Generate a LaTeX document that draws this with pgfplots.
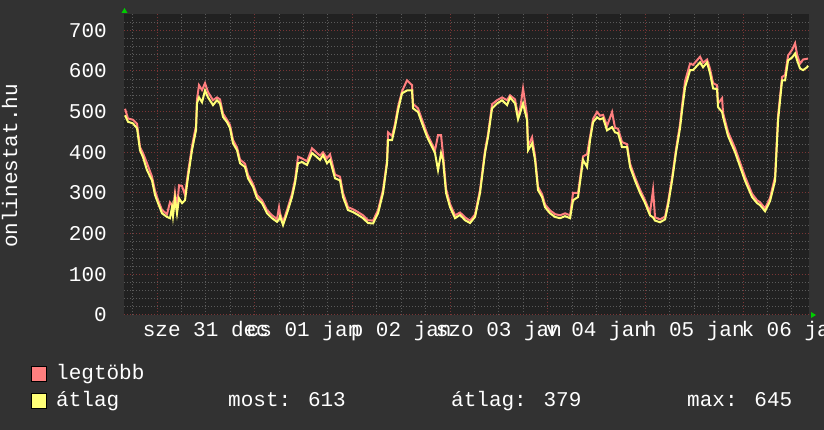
\documentclass[border=0pt]{standalone}
\usepackage{fontspec}
\usepackage{pgfplots}
\usepackage{pgfplotstable}
\pgfplotsset{compat=1.18}
\newfontfamily\rrd{Liberation Mono}
\definecolor{bg}{HTML}{323232}
\definecolor{canvas}{HTML}{212121}
\definecolor{mgrid}{HTML}{7A3535}
\definecolor{mingrid}{HTML}{5A5A5A}
\definecolor{maxc}{HTML}{FF7F7F}
\definecolor{avgc}{HTML}{FFFF77}
\definecolor{arrowc}{HTML}{00CC00}
\pgfplotstableread{
h avg max
-7.86 491 507
-7.13 475 483
-5.90 471 480
-4.91 459 470
-4.18 405 413
-3.44 388 398
-2.46 356 373
-1.23 331 340
-0.49 295 305
0.25 275 283
1.23 250 258
2.46 241 248
3.19 238 277
3.69 265 270
3.93 243 255
4.42 287 300
4.91 250 262
5.41 287 319
6.14 275 317
6.88 282 295
7.62 339 350
8.60 405 415
9.09 430 440
9.58 454 465
9.83 521 530
10.32 535 565
11.06 523 553
11.80 552 570
12.53 535 548
13.76 516 528
14.74 528 535
15.48 520 530
16.22 487 495
17.20 474 480
17.94 459 467
18.68 422 430
19.66 405 412
20.40 373 382
21.62 364 372
22.36 336 345
23.59 315 322
24.57 287 295
25.80 275 282
27.03 250 258
28.26 238 245
29.49 229 236
29.98 235 265
30.22 243 250
30.96 221 228
31.94 250 258
33.17 290 298
33.91 324 332
34.65 373 389
35.63 376 385
36.86 369 378
38.09 398 410
39.32 388 398
40.05 381 392
40.79 393 400
41.77 373 385
42.51 381 395
43.74 336 345
44.97 331 340
45.71 290 300
46.93 258 265
48.16 253 260
49.39 246 253
50.62 238 245
51.85 226 233
53.08 225 232
54.31 250 258
55.54 300 308
56.52 373 380
56.76 430 449
57.75 430 440
58.48 462 470
59.22 503 512
60.20 545 550
61.43 552 577
62.66 552 565
62.91 508 519
64.14 499 508
65.12 471 480
66.35 438 446
67.58 413 420
68.31 398 405
69.05 356 442
69.79 398 442
70.28 381 395
71.02 300 310
72.00 265 273
73.23 238 245
74.46 246 252
75.68 233 240
76.91 226 232
78.14 241 247
79.37 300 308
80.60 398 405
81.34 438 445
82.32 508 518
83.55 520 528
84.78 528 535
86.01 516 528
86.74 535 540
87.97 520 530
88.71 481 490
89.20 496 505
89.94 520 557
90.92 479 490
91.17 405 415
92.15 422 437
92.89 381 390
93.62 307 315
94.61 290 297
95.34 265 272
96.57 250 257
97.80 241 248
99.03 238 245
100.26 243 250
101.49 238 245
102.22 282 300
103.45 290 300
104.68 381 390
105.66 364 395
106.40 430 438
107.14 474 482
108.12 486 499
108.86 481 490
109.60 484 492
110.58 454 465
111.81 462 499
112.54 449 460
113.28 447 458
114.26 413 425
115.49 413 420
116.23 364 372
117.46 330 338
118.69 300 308
119.92 275 282
121.14 245 252
121.88 240 308
122.37 232 240
123.60 228 235
124.83 235 242
125.57 270 278
126.55 330 338
127.53 400 408
128.52 460 470
129.01 503 515
129.75 560 575
130.97 602 618
131.71 602 615
133.43 621 635
134.17 609 620
135.15 621 628
135.89 594 605
136.63 557 570
137.61 555 565
137.85 511 520
138.84 499 533
139.08 487 497
140.31 440 450
142.03 400 410
143.26 365 375
144.49 330 340
146.21 290 298
147.44 275 282
148.18 270 277
149.40 255 262
150.63 280 288
151.86 330 340
152.60 479 490
153.58 577 585
154.32 577 590
155.06 626 638
156.04 633 652
156.78 643 668
157.27 626 640
158.00 606 618
158.74 602 628
159.72 609 630
159.97 613 630
}\rrddata
\begin{document}
\begin{tikzpicture}
\path[use as bounding box] (0pt,0pt) rectangle (824pt,430pt);
\fill[bg] (0pt,0pt) rectangle (824pt,430pt);
\begin{scope}
\clip (0pt,0pt) rectangle (824pt,430pt);
\begin{axis}[
  at={(124pt,115pt)}, anchor=south west,
  scale only axis, width=685pt, height=301pt,
  xmin=-8.11, xmax=160.2, ymin=0, ymax=740,
  axis background/.style={fill=canvas},
  axis line style={draw=none},
  xtick={0,24,48,72,96,120,144}, xticklabels={},
  minor xtick={-6,6,12,18,30,36,42,54,60,66,78,84,90,102,108,114,126,132,138,150,156},
  ytick={0,100,...,700},
  minor ytick={20,40,60,80,120,140,160,180,220,240,260,280,320,340,360,380,420,440,460,480,520,540,560,580,620,640,660,680,720},
  grid=both,
  major grid style={mgrid, line width=1pt, dash pattern=on 1pt off 2pt},
  minor grid style={mingrid, line width=1pt, dash pattern=on 1pt off 2pt},
  major tick length=0pt, minor tick length=0pt,
  tick style={draw=none},
  extra x ticks={12,36,60,84,108,132,156},
  extra x tick labels={sze 31 dec,cs 01 jan,p 02 jan,szo 03 jan,v 04 jan,h 05 jan,k 06 jan},
  extra x tick style={grid=none},
  ticklabel style={font=\rrd\fontsize{21}{24}\selectfont, text=white, inner sep=0pt},
  xticklabel style={anchor=base, yshift=-22pt},
  yticklabel style={anchor=east, xshift=-17pt},
  /pgf/number format/assume math mode=true,
]
\addplot[maxc, line width=2pt, no marks] table[x=h, y=max] {\rrddata};
\addplot[avgc, line width=2pt, no marks] table[x=h, y=avg] {\rrddata};
\end{axis}
\end{scope}
\fill[arrowc] (121.5pt,417pt) -- (127.5pt,417pt) -- (124.5pt,422pt) -- cycle;
\fill[arrowc] (811pt,112pt) -- (811pt,118pt) -- (816pt,115pt) -- cycle;
\node[rotate=90, anchor=base, inner sep=0pt, text=white, font=\rrd\fontsize{21}{24}\selectfont] at (17pt,264pt) {onlinestat.hu};
\filldraw[fill=maxc, draw=black, line width=1pt] (31.5pt,48.5pt) rectangle (46.5pt,63.5pt);
\filldraw[fill=avgc, draw=black, line width=1pt] (31.5pt,21.5pt) rectangle (46.5pt,36.5pt);
\begin{scope}[every node/.style={anchor=base west, inner sep=0pt, text=white, font=\rrd\fontsize{21}{24}\selectfont}]
\node at (56pt,50pt) {legtöbb};
\node at (56pt,23pt) {átlag};
\node at (228pt,23pt) {most: 613};
\node at (451pt,23pt) {átlag: 379};
\node at (687pt,23pt) {max: 645};
\end{scope}
\end{tikzpicture}
\end{document}
